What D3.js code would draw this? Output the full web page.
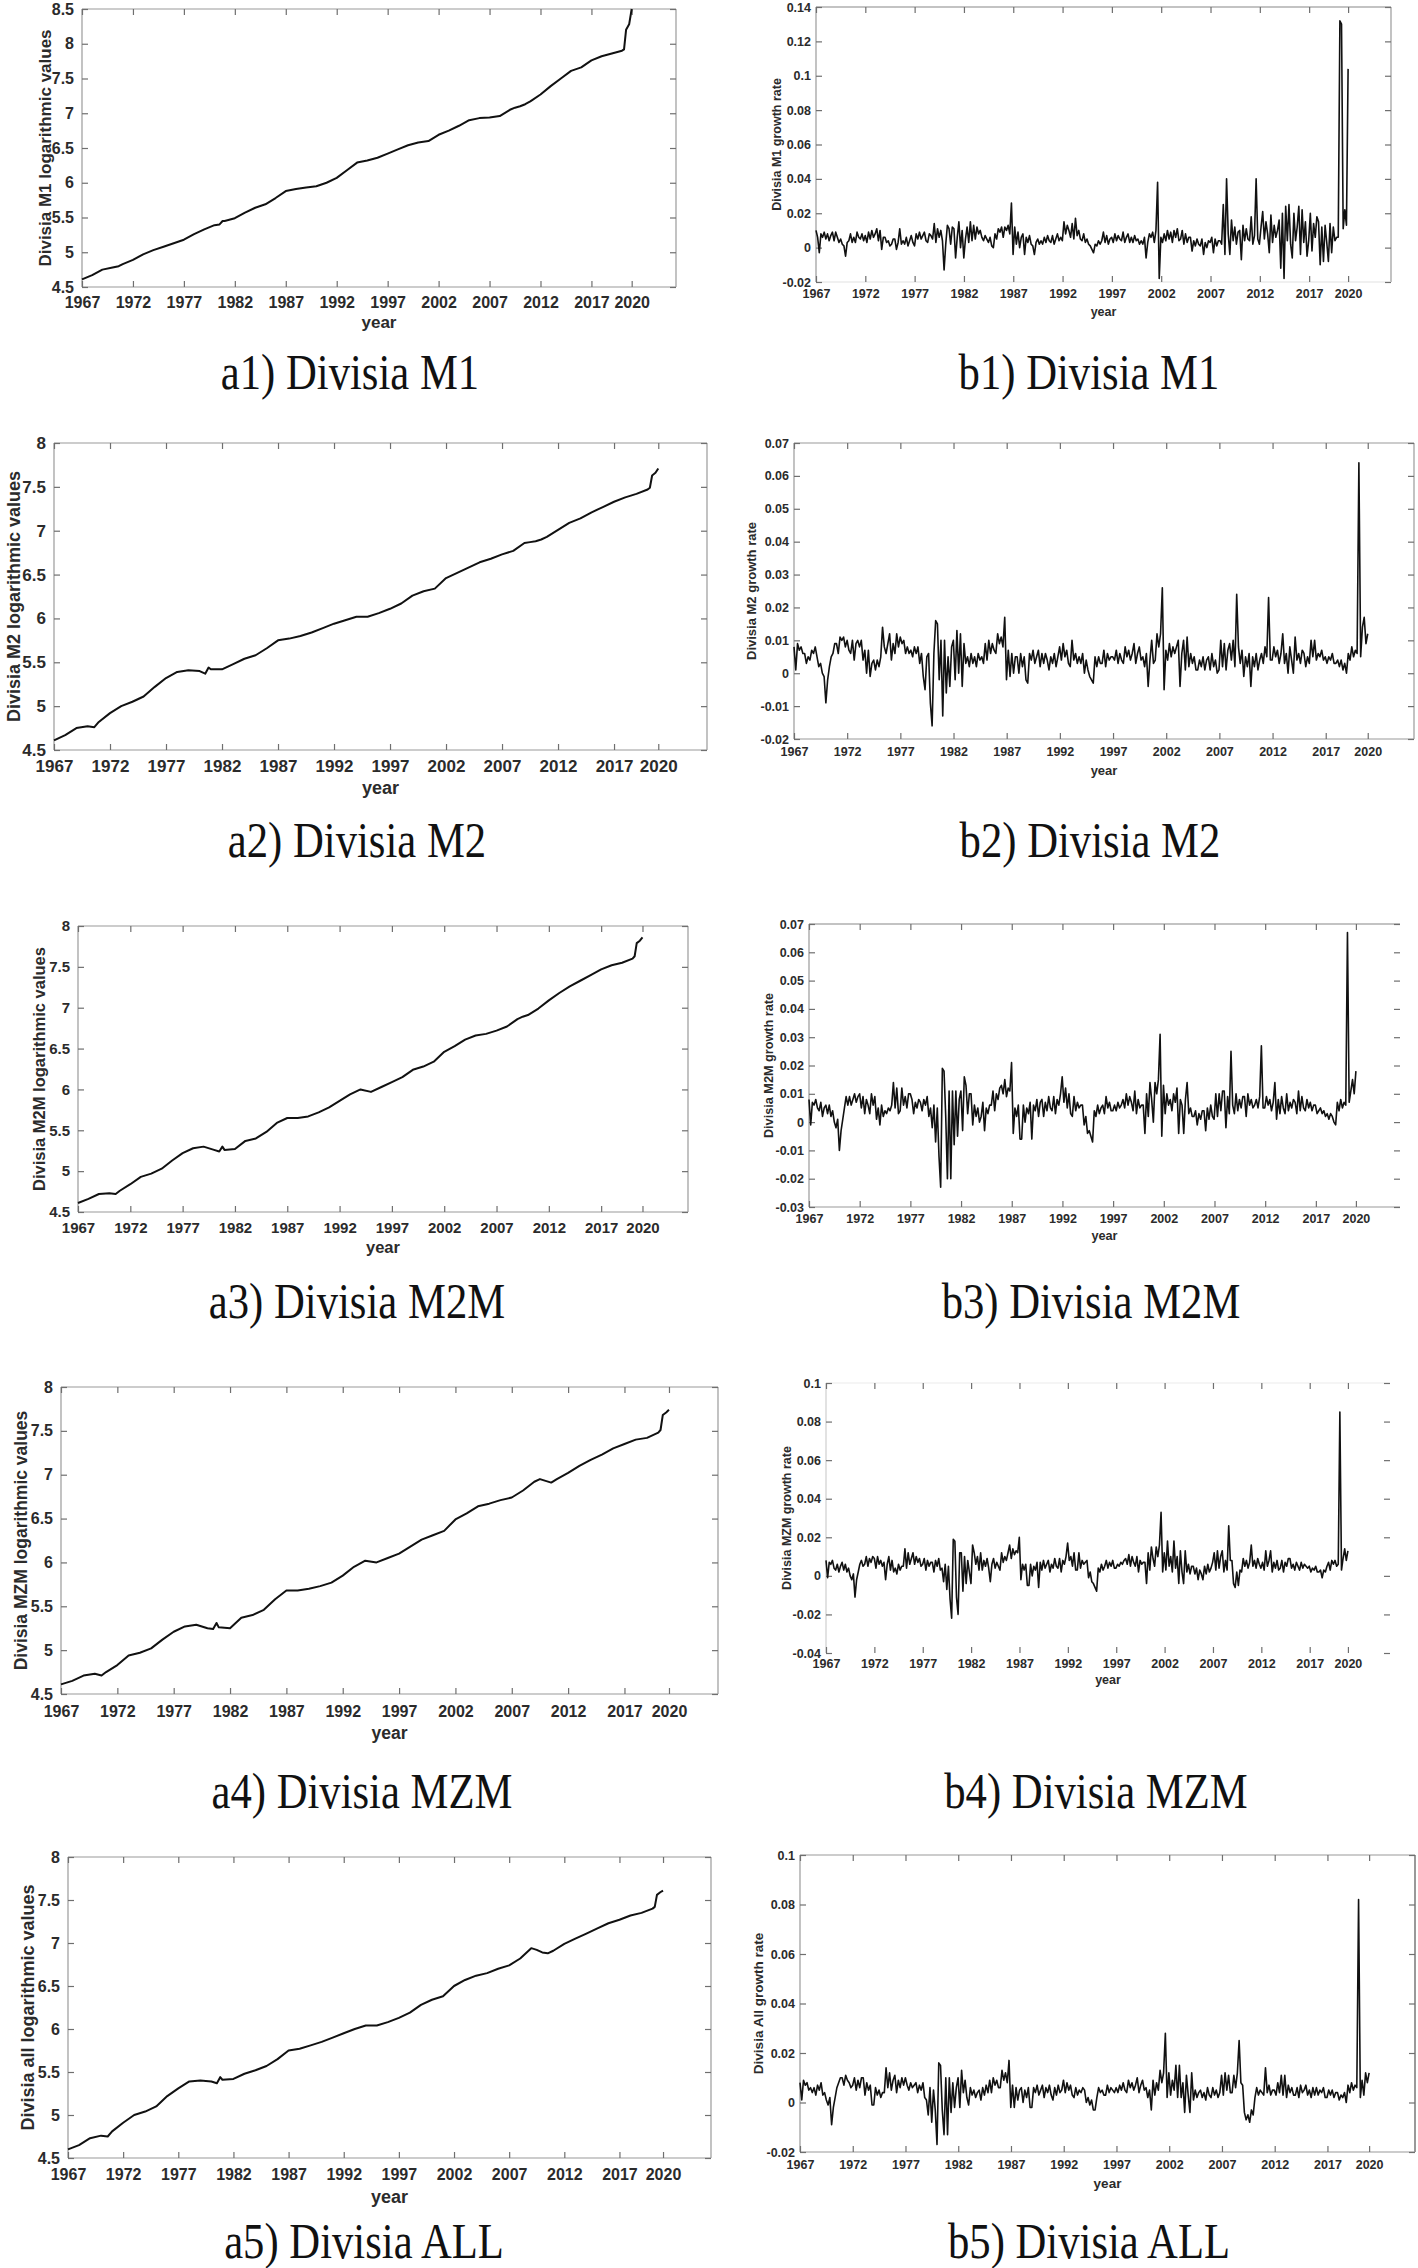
<!DOCTYPE html>
<html><head><meta charset="utf-8">
<script src="https://cdn.jsdelivr.net/npm/d3@7"></script>
<style>
body{margin:0;background:#fff;}
svg{display:block;}
.tick text{font-family:"Liberation Sans",Arial,sans-serif;font-weight:bold;fill:#2b2b2b;}
.lbl{font-family:"Liberation Sans",Arial,sans-serif;font-weight:bold;fill:#2b2b2b;}
.cap{font-family:"Liberation Serif","Times New Roman",serif;fill:#111;}
</style></head><body>
<svg id="fig" width="1418" height="2268"></svg>
<script>
// ---------------- DATA ----------------
const xTickValues = [1967,1972,1977,1982,1987,1992,1997,2002,2007,2012,2017,2020.95];
const xTickLabels = ["1967","1972","1977","1982","1987","1992","1997","2002","2007","2012","2017","2020"];

const levelYears = [1967,1968,1969,1970,1970.6,1971,1972,1973,1974,1975,1976,1977,1978,1979,1980,1980.5,1980.8,1981,1982,1983,1984,1985,1986,1987,1988,1989,1990,1991,1992,1993,1994,1995,1996,1997,1998,1999,2000,2001,2002,2003,2004,2005,2006,2007,2008,2009,2009.5,2010,2010.5,2011,2012,2013,2014,2015,2016,2017,2018,2019,2020,2020.2,2020.4,2020.7,2020.95];

const levelM1 = [4.61,4.67,4.75,4.78,4.80,4.83,4.89,4.97,5.03,5.08,5.13,5.18,5.26,5.33,5.39,5.40,5.45,5.45,5.49,5.57,5.64,5.69,5.78,5.88,5.91,5.93,5.95,6.00,6.07,6.18,6.29,6.32,6.36,6.42,6.48,6.54,6.58,6.60,6.69,6.75,6.82,6.90,6.93,6.94,6.96,7.05,7.08,7.10,7.13,7.17,7.27,7.39,7.50,7.61,7.66,7.76,7.82,7.86,7.90,7.92,8.20,8.28,8.50];
const levelM2 = [4.61,4.67,4.75,4.77,4.76,4.82,4.92,5.00,5.05,5.11,5.22,5.32,5.39,5.41,5.40,5.37,5.44,5.42,5.42,5.48,5.54,5.58,5.66,5.75,5.77,5.80,5.84,5.89,5.94,5.98,6.02,6.02,6.06,6.11,6.17,6.26,6.31,6.34,6.46,6.52,6.58,6.64,6.68,6.73,6.77,6.86,6.87,6.88,6.90,6.93,7.01,7.09,7.14,7.21,7.27,7.33,7.38,7.42,7.47,7.49,7.63,7.66,7.71];
const levelM2M = [4.61,4.66,4.72,4.73,4.72,4.76,4.84,4.93,4.97,5.03,5.13,5.22,5.28,5.30,5.26,5.24,5.30,5.26,5.27,5.37,5.40,5.48,5.59,5.65,5.65,5.67,5.72,5.78,5.86,5.94,6.00,5.97,6.03,6.09,6.15,6.24,6.28,6.34,6.46,6.53,6.61,6.66,6.68,6.72,6.77,6.86,6.89,6.91,6.95,6.99,7.09,7.18,7.26,7.33,7.40,7.47,7.52,7.55,7.60,7.63,7.79,7.82,7.86];
const levelMZM = [4.61,4.65,4.71,4.73,4.71,4.75,4.83,4.94,4.97,5.02,5.12,5.21,5.27,5.29,5.25,5.24,5.31,5.26,5.25,5.37,5.40,5.46,5.58,5.68,5.68,5.70,5.73,5.77,5.85,5.95,6.02,6.00,6.05,6.10,6.18,6.26,6.31,6.36,6.49,6.56,6.64,6.67,6.71,6.74,6.82,6.92,6.95,6.93,6.91,6.95,7.02,7.10,7.17,7.23,7.30,7.35,7.40,7.42,7.48,7.51,7.68,7.71,7.74];
const levelAll = [4.60,4.65,4.73,4.76,4.75,4.81,4.91,5.00,5.04,5.10,5.22,5.31,5.39,5.40,5.39,5.37,5.44,5.41,5.42,5.48,5.52,5.57,5.65,5.75,5.77,5.81,5.85,5.90,5.95,6.00,6.04,6.04,6.08,6.13,6.19,6.28,6.34,6.38,6.50,6.57,6.62,6.65,6.70,6.74,6.82,6.94,6.92,6.89,6.88,6.91,6.99,7.05,7.11,7.17,7.23,7.27,7.32,7.35,7.40,7.42,7.56,7.59,7.61];

// growth rates in per-mille (0.001 units): six readings per year (Jan, Mar, May, Jul, Sep, Nov) 1967-2020, then the last month
const growthM1Pm = [
 10,6,-3,8,6,9,   5,8,4,7,9,4,   9,6,3,5,2,1,   -5,3,4,8,3,6,   3,9,6,5,8,4,      // 1967-1971
 7,3,9,5,10,6,   8,11,4,10,-1,6,   6,3,4,1,2,5,   5,-1,3,11,2,4,   2,6,1,4,7,3,   // 1972-1976
 1,8,5,9,5,7,   9,4,3,8,7,5,   14,3,11,6,10,4,   -13,2,13,11,2,12,   11,-6,6,15,0,10, // 1977-1981
 -6,5,12,3,15,4,   13,5,12,8,10,6,   4,7,5,3,6,1,   0,8,5,11,9,12,   6,12,10,13,8,26, // 1982-1986
 -4,12,2,9,0,6,   8,-4,6,3,7,2,   1,-4,3,5,2,4,   2,6,3,7,4,3,   7,2,5,8,4,6,      // 1987-1991
 4,15,8,13,10,6,   14,5,17,7,10,5,   4,8,3,5,2,1,   -1,-3,2,1,4,2,   4,9,3,7,2,5,   // 1992-1996
 6,3,8,4,7,5,   4,9,3,6,8,3,   6,3,7,4,5,2,   4,2,6,-6,3,8,   6,9,3,10,38,-18,      // 1997-2001
 6,3,8,4,10,5,   9,3,10,6,11,4,   5,10,2,8,3,6,   6,-2,4,1,5,2,   1,5,-4,3,0,4,      // 2002-2006
 3,6,-3,5,1,4,   4,2,25,-4,40,8,   -4,16,4,12,2,9,   10,-7,13,4,11,5,   4,18,2,7,40,5, // 2007-2011
 2,12,21,5,15,8,   -3,19,3,13,6,10,   16,-12,20,-18,24,4,   25,2,-6,20,4,12,   24,-4,22,3,15,-5, // 2012-2016
 4,20,-2,14,6,18,   15,-10,12,-8,13,3,   -8,14,-3,12,4,6,   6,132,130,11,22,13,   // 2017-2020
 104];
const growthM2Pm = [
 8,1,9,7,8,6,   6,3,5,4,7,6,   8,5,2,3,0,-1,   -9,-2,2,5,6,9,   9,6,11,10,11,8,
 10,7,6,10,4,9,   10,8,10,4,7,0,   7,-1,3,4,1,4,   2,5,14,8,6,9,   12,4,9,6,12,8,
 11,9,10,6,8,6,   7,5,8,6,8,3,   6,-1,-5,5,6,-9,   -16,6,16,15,-2,10,   -13,10,-6,5,-4,8,
 10,-2,13,0,12,-4,   9,3,5,2,6,3,   5,2,6,4,5,3,   9,4,10,6,9,7,   6,12,9,11,8,17,
 -2,7,-1,6,0,5,   5,0,6,2,5,-2,   -3,6,4,7,3,5,   7,2,6,3,6,4,   1,5,3,6,2,5,
 8,4,9,5,7,3,   2,10,4,6,3,5,   3,6,0,4,1,-1,   -2,-3,5,2,5,3,   3,7,2,6,4,5,
 5,4,7,3,6,4,   3,8,5,7,4,6,   9,3,6,8,4,5,   2,6,-4,4,10,3,   4,12,8,12,26,-5,
 7,4,9,5,8,6,   8,10,-4,6,10,1,   11,2,6,3,5,1,   1,4,2,5,1,4,   5,1,6,2,4,0,
 1,10,2,9,1,7,   9,4,10,2,24,8,   3,7,-1,5,2,6,   -4,5,2,6,1,4,   6,3,8,5,23,4,
 4,8,5,7,3,6,   12,3,6,0,8,4,   0,11,4,6,3,7,   6,2,5,3,10,5,   10,4,6,5,7,4,
 5,3,5,4,6,3,   3,4,2,4,1,3,   0,6,4,8,5,7,   6,64,5,14,17,9,
 12];
const growthM2MPm = [
 8,-1,7,6,8,5,   4,7,2,5,6,3,   6,2,4,0,-2,1,   -10,-3,1,5,9,6,   9,6,8,10,7,9,
 10,5,9,3,8,6,   3,10,6,9,1,5,   -1,6,2,4,3,5,   4,6,14,5,12,3,   4,12,6,9,5,10,
 10,8,3,7,5,8,   7,4,8,6,9,2,   5,-2,6,-7,5,-12,   -23,19,18,2,-20,11,   -20,11,-8,11,-5,8,
 11,-3,16,13,3,10,   10,-1,6,2,5,0,   2,7,-3,5,3,6,   6,11,4,10,8,12,   13,10,15,9,12,11,
 21,-4,5,2,6,-6,   -6,6,0,5,3,7,   -6,6,4,8,2,7,   8,2,7,4,9,5,   4,9,3,8,6,10,
 16,7,12,5,10,3,   2,9,4,7,5,6,   6,-1,2,-4,-3,-5,   -7,4,2,6,3,5,   6,3,9,5,7,4,
 4,6,4,7,5,6,   8,5,10,6,9,7,   4,11,3,8,5,6,   6,-4,10,2,14,8,   0,14,10,15,31,-5,
 13,3,10,6,8,4,   10,7,12,-4,8,6,   -4,8,14,3,5,2,   2,4,-1,3,1,4,   4,-3,5,1,6,2,
 1,10,2,10,4,11,   11,-2,9,3,25,6,   3,10,4,8,5,9,   9,2,10,6,8,5,   6,8,5,9,27,5,
 5,9,6,8,4,7,   14,1,8,3,9,5,   3,10,4,7,5,8,   7,3,11,4,9,5,   4,8,5,7,4,6,
 6,3,4,5,3,4,   2,3,1,3,2,0,   -1,7,4,8,5,7,   6,67,7,11,15,10,
 18];
const growthMZMPm = [
 8,-1,7,6,8,4,   3,6,2,5,7,3,   6,2,4,0,-2,1,   -11,-2,2,6,8,5,   6,10,5,9,7,10,
 9,4,10,6,8,5,   7,-2,6,10,3,8,   2,4,1,6,3,5,   5,14,4,12,6,9,   12,6,10,7,9,5,
 6,9,3,8,5,7,   7,2,8,5,9,3,   4,-3,6,-7,5,-12,   -22,19,18,-11,-20,12,   12,-8,10,-4,8,2,
 -4,16,12,6,10,3,   12,3,8,5,9,4,   -3,6,9,4,7,5,   3,12,7,10,8,12,   16,9,14,11,13,12,
 20,-2,6,3,6,-5,   -5,6,0,5,3,7,   -6,7,3,8,4,6,   8,2,6,4,9,5,   4,9,2,8,6,10,
 17,8,10,5,12,3,   3,12,4,8,6,7,   8,-1,2,-3,-4,-6,   -8,4,2,6,3,5,   8,4,7,5,8,4,
 4,6,5,7,6,8,   9,6,11,5,10,7,   5,10,2,8,6,7,   7,-4,12,3,15,9,   5,15,10,16,33,2,
 12,3,18,5,10,2,   18,4,10,-4,13,2,   -4,13,2,6,1,5,   5,1,4,-2,3,1,   -2,5,1,6,2,4,
 7,12,3,13,4,10,   13,2,8,3,26,8,   8,-4,-6,2,-5,3,   2,9,5,8,4,7,   16,5,8,4,9,6,
 4,7,3,13,5,8,   13,2,7,4,8,3,   4,8,2,7,5,9,   9,4,6,3,7,5,   3,7,4,6,5,4,
 5,2,4,3,5,2,   2,3,-1,3,2,5,   7,3,8,6,8,5,   6,85,3,9,14,8,
 13];
const growthAllPm = [
 8,1,9,7,8,5,   6,4,6,3,7,5,   8,3,4,1,-1,2,   -9,-2,2,6,8,10,   10,7,11,9,8,6,
 7,10,5,9,6,10,   10,3,8,5,7,-1,   -1,6,3,5,2,4,   4,14,6,12,5,9,   11,4,9,6,10,7,
 10,7,5,8,6,7,   8,4,7,5,8,2,   1,-5,6,-8,5,-3,   -17,16,15,-3,-13,10,   -13,10,-4,8,-2,6,
 10,-2,13,4,9,2,   -1,6,3,5,2,4,   5,1,6,3,7,4,   9,4,10,7,9,6,   6,13,9,12,8,17,
 -2,7,-2,6,1,5,   6,0,5,2,6,-2,   -2,6,4,7,3,5,   7,2,6,4,7,3,   1,6,3,7,4,5,
 9,4,8,5,7,3,   2,6,3,5,4,6,   5,0,2,-1,1,-3,   -3,2,6,4,5,3,   3,7,4,6,5,4,
 6,4,7,5,8,5,   4,9,6,8,5,7,   10,4,7,9,5,6,   2,5,-3,9,3,8,   5,13,8,12,28,2,
 12,3,9,5,15,2,   15,2,8,-4,11,3,   -4,12,1,5,2,4,   5,2,4,1,6,3,   2,6,3,5,2,4,
 11,3,12,5,11,4,   4,11,6,12,25,8,   7,-4,-7,-5,-8,-3,   -5,2,6,3,5,4,   3,14,4,7,3,5,
 5,3,8,4,11,3,   11,2,7,4,6,3,   3,6,2,7,4,5,   7,3,5,2,6,3,   6,3,5,4,6,2,
 2,5,3,5,2,4,   4,1,3,2,4,0,   7,4,8,5,7,6,   82,2,9,3,12,8,
 12];
// per-mille -> growth rate
const growthM1 = growthM1Pm.map(v => v / 1000);
const growthM2 = growthM2Pm.map(v => v / 1000);
const growthM2M = growthM2MPm.map(v => v / 1000);
const growthMZM = growthMZMPm.map(v => v / 1000);
const growthAll = growthAllPm.map(v => v / 1000);
// time index of the growth readings (every two months, Jan 1967 .. end of 2020)
const growthYears = d3.range(growthM1Pm.length).map(i => 1967 + i * (2020.95 - 1967) / (growthM1Pm.length - 1));

const levelTicksA1 = [4.5,5,5.5,6,6.5,7,7.5,8,8.5];
const levelTicks = [4.5,5,5.5,6,6.5,7,7.5,8];
const ticksB1 = [-0.02,0,0.02,0.04,0.06,0.08,0.1,0.12,0.14];
const ticksB2 = [-0.02,-0.01,0,0.01,0.02,0.03,0.04,0.05,0.06,0.07];
const ticksB3 = [-0.03,-0.02,-0.01,0,0.01,0.02,0.03,0.04,0.05,0.06,0.07];
const ticksB4 = [-0.04,-0.02,0,0.02,0.04,0.06,0.08,0.1];
const ticksB5 = [-0.02,0,0.02,0.04,0.06,0.08,0.1];

// ---------------- LAYOUT ----------------
const G='#9a9a9a';
const panels = [
 {x:levelYears,y:levelM1,yd:[4.5,8.5],yt:levelTicksA1,L:82,R:676,T:9,B:287,ylab:"Divisia M1 logarithmic values",ylx:45,fs:16,lfs:17,xpad:10,ypad:8,yearY:322,cap:"a1) Divisia M1",capX:350,capY:389,lw:2,sides:[G,G,G,G]},
 {x:growthYears,y:growthM1,yd:[-0.02,0.14],yt:ticksB1,L:816,R:1391,T:7,B:282,ylab:"Divisia M1 growth rate",ylx:777,fs:12.5,lfs:12.5,xpad:7,ypad:5,yearY:312,cap:"b1) Divisia M1",capX:1089,capY:389,lw:1.6,sides:['#888',G,'#e2e2e2',G]},
 {x:levelYears,y:levelM2,yd:[4.5,8],yt:levelTicks,L:54,R:707,T:443,B:750,ylab:"Divisia M2 logarithmic values",ylx:14,fs:17,lfs:18,xpad:10,ypad:8,yearY:788,cap:"a2) Divisia M2",capX:357,capY:857,lw:2,sides:[G,G,G,G]},
 {x:growthYears,y:growthM2,yd:[-0.02,0.07],yt:ticksB2,L:794,R:1414,T:443,B:739,ylab:"Divisia M2 growth rate",ylx:751,fs:12.5,lfs:13,xpad:8,ypad:5,yearY:770,cap:"b2) Divisia M2",capX:1090,capY:857,lw:1.6,sides:[G,G,G,G]},
 {x:levelYears,y:levelM2M,yd:[4.5,8],yt:levelTicks,L:78,R:688,T:926,B:1212,ylab:"Divisia M2M logarithmic values",ylx:39,fs:15,lfs:16.5,xpad:10,ypad:8,yearY:1247,cap:"a3) Divisia M2M",capX:357,capY:1318,lw:2,sides:[G,G,G,G]},
 {x:growthYears,y:growthM2M,yd:[-0.03,0.07],yt:ticksB3,L:809,R:1400,T:924,B:1207,ylab:"Divisia M2M growth rate",ylx:769,fs:12.5,lfs:12.7,xpad:7,ypad:5,yearY:1236,cap:"b3) Divisia M2M",capX:1091,capY:1318,lw:1.6,sides:['#888','none',G,G]},
 {x:levelYears,y:levelMZM,yd:[4.5,8],yt:levelTicks,L:61,R:718,T:1387,B:1694,ylab:"Divisia MZM logarithmic values",ylx:21,fs:16,lfs:17.5,xpad:12,ypad:8,yearY:1733,cap:"a4) Divisia MZM",capX:362,capY:1808,lw:2,sides:[G,G,G,G]},
 {x:growthYears,y:growthMZM,yd:[-0.04,0.1],yt:ticksB4,L:826,R:1390,T:1383,B:1653,ylab:"Divisia MZM growth rate",ylx:787,fs:12.5,lfs:12.5,xpad:6,ypad:5,yearY:1680,cap:"b4) Divisia MZM",capX:1096,capY:1808,lw:1.6,sides:['#ececec','none','none','#cfcfcf']},
 {x:levelYears,y:levelAll,yd:[4.5,8],yt:levelTicks,L:68,R:711,T:1857,B:2158,ylab:"Divisia all logarithmic values",ylx:28,fs:16,lfs:18,xpad:11,ypad:8,yearY:2197,cap:"a5) Divisia ALL",capX:364,capY:2258,lw:2,sides:[G,G,G,G]},
 {x:growthYears,y:growthAll,yd:[-0.02,0.1],yt:ticksB5,L:800,R:1415,T:1855,B:2152,ylab:"Divisia All growth rate",ylx:758,fs:12.5,lfs:13.5,xpad:8,ypad:5,yearY:2183,cap:"b5) Divisia ALL",capX:1089,capY:2258,lw:1.6,sides:[G,'#555',G,G]}
];

const svg = d3.select('#fig');
svg.append('rect').attr('width',1418).attr('height',2268).attr('fill','#fff');

panels.forEach(p => {
  const g = svg.append('g');
  const x = d3.scaleLinear().domain([1967, 2025.3]).range([p.L, p.R]);
  const y = d3.scaleLinear().domain(p.yd).range([p.B, p.T]);
  const tk = 6;

  const segs = [[p.L,p.T,p.R,p.T],[p.R,p.T,p.R,p.B],[p.L,p.B,p.R,p.B],[p.L,p.T,p.L,p.B]];
  segs.forEach((s,i) => {
    if (p.sides[i] === 'none') return;
    g.append('line').attr('x1',s[0]).attr('y1',s[1]).attr('x2',s[2]).attr('y2',s[3])
      .attr('stroke',p.sides[i]).attr('stroke-width',1.2);
  });

  const style = sel => {
    sel.select('.domain').remove();
    sel.selectAll('.tick line').attr('stroke','#6f6f6f').attr('stroke-width',1.2);
  };

  g.append('g').attr('transform',`translate(0,${p.B})`)
    .call(d3.axisBottom(x).tickValues(xTickValues).tickFormat((d,i)=>xTickLabels[i])
      .tickSizeInner(-tk).tickSizeOuter(0).tickPadding(p.xpad))
    .call(style).selectAll('text').style('font-size',p.fs+'px');
  g.append('g').attr('transform',`translate(0,${p.T})`)
    .call(d3.axisTop(x).tickValues(xTickValues).tickFormat('').tickSizeInner(-tk).tickSizeOuter(0))
    .call(style);
  g.append('g').attr('transform',`translate(${p.L},0)`)
    .call(d3.axisLeft(y).tickValues(p.yt).tickFormat(d=>String(d)).tickSizeInner(-tk).tickSizeOuter(0).tickPadding(p.ypad))
    .call(style).selectAll('text').style('font-size',p.fs+'px');
  g.append('g').attr('transform',`translate(${p.R},0)`)
    .call(d3.axisRight(y).tickValues(p.yt).tickFormat('').tickSizeInner(-tk).tickSizeOuter(0))
    .call(style);

  const pts = p.x.map((t,i)=>[t,p.y[i]]);
  g.append('path').datum(pts)
    .attr('fill','none').attr('stroke','#111').attr('stroke-width',p.lw).attr('stroke-linejoin','round')
    .attr('d', d3.line().x(d=>x(d[0])).y(d=>y(d[1])));

  g.append('text').attr('class','lbl')
    .attr('transform',`translate(${p.ylx},${(p.T+p.B)/2}) rotate(-90)`)
    .attr('text-anchor','middle').attr('dominant-baseline','central')
    .style('font-size',p.lfs+'px').text(p.ylab);

  g.append('text').attr('class','lbl')
    .attr('x',(p.L + p.R)/2).attr('y',p.yearY)
    .attr('text-anchor','middle').attr('dominant-baseline','central')
    .style('font-size',p.lfs+'px').text('year');

  // caption: Times-like, slightly tall as in the source figure
  g.append('text').attr('class','cap')
    .attr('transform',`translate(${p.capX},${p.capY}) scale(0.97,1.14)`)
    .attr('text-anchor','middle')
    .style('font-size','44px').text(p.cap);
});
</script>
</body></html>
